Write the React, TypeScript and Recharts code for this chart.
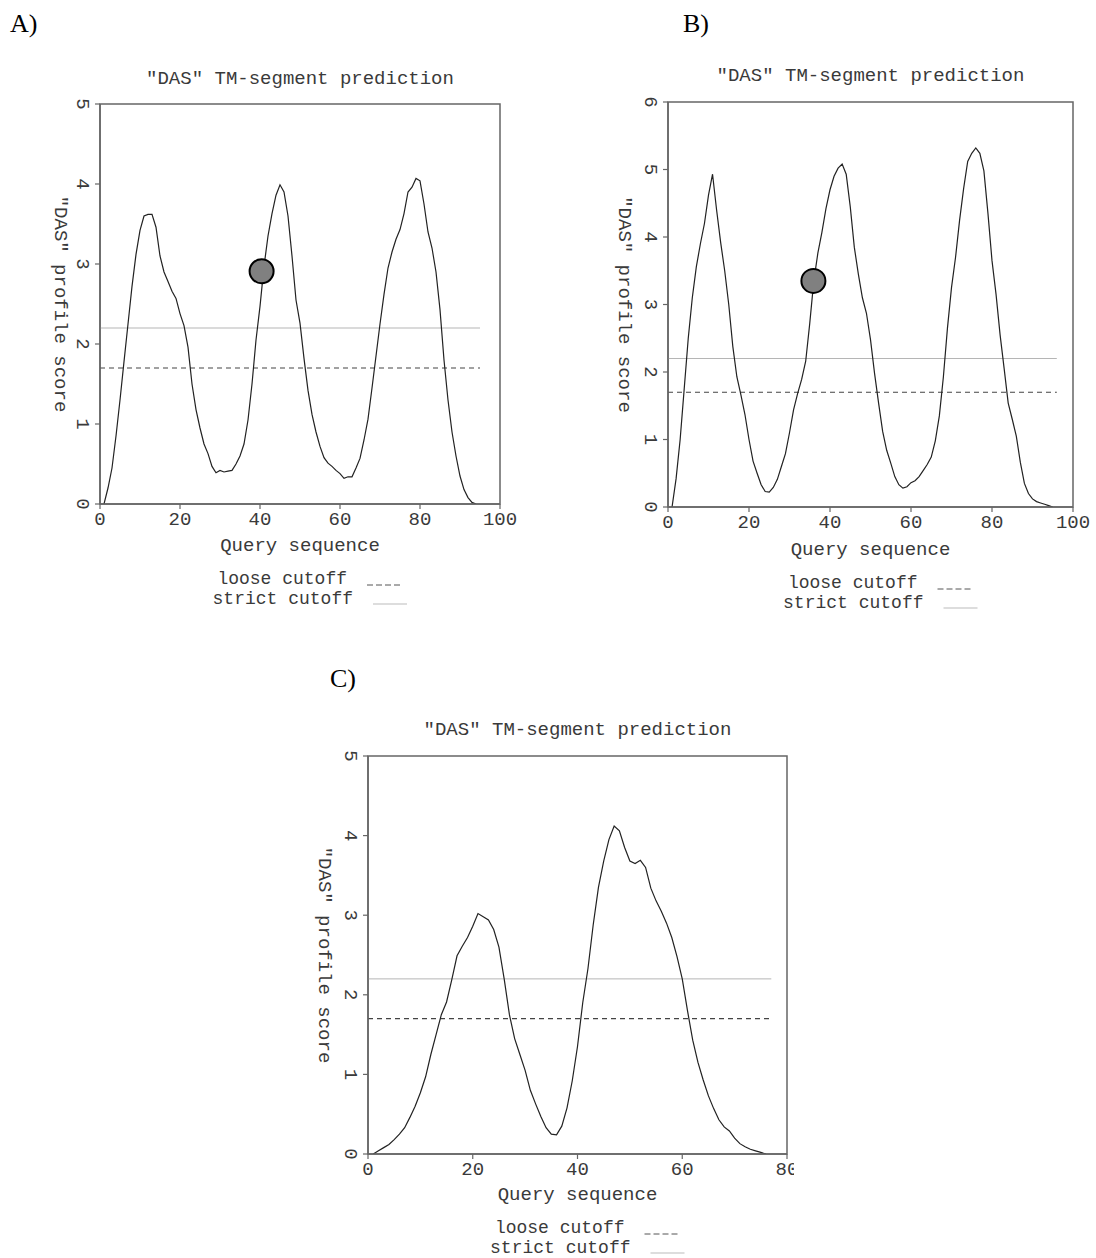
import React from 'react';
import { LineChart, Line, XAxis, YAxis, ReferenceLine, ReferenceArea, ReferenceDot } from 'recharts';

// ---------- data ----------
const startA = 1;
const scoreA = [
  0, 0.2, 0.45, 0.85, 1.3, 1.78, 2.25, 2.72, 3.12, 3.42,
  3.6, 3.62, 3.62, 3.46, 3.1, 2.9, 2.78, 2.66, 2.57, 2.38,
  2.23, 1.96, 1.5, 1.18, 0.95, 0.75, 0.63, 0.47, 0.39, 0.42,
  0.4, 0.41, 0.42, 0.5, 0.6, 0.75, 1.05, 1.5, 2.05, 2.47,
  2.97, 3.35, 3.63, 3.86, 3.99, 3.9, 3.6, 3.1, 2.55, 2.26,
  1.82, 1.42, 1.12, 0.9, 0.72, 0.58, 0.51, 0.47, 0.42, 0.38,
  0.32, 0.34, 0.34, 0.45, 0.57, 0.8, 1.06, 1.45, 1.85, 2.25,
  2.62, 2.95, 3.15, 3.31, 3.43, 3.63, 3.9, 3.96, 4.07, 4.04,
  3.75, 3.4, 3.2, 2.9, 2.43, 1.8, 1.3, 0.9, 0.6, 0.35,
  0.18, 0.08, 0.02, 0,
];

const startB = 1;
const scoreB = [
  0, 0.42, 1.0, 1.75, 2.5, 3.1, 3.56, 3.9, 4.2, 4.62,
  4.93, 4.4, 3.92, 3.5, 3.0, 2.38, 1.93, 1.66, 1.37, 1.0,
  0.68, 0.5, 0.33, 0.23, 0.22, 0.29, 0.41, 0.6, 0.79, 1.1,
  1.44, 1.68, 1.89, 2.16, 2.72, 3.35, 3.76, 4.07, 4.42, 4.7,
  4.9, 5.02, 5.08, 4.93, 4.45, 3.85, 3.45, 3.1, 2.87, 2.48,
  1.98, 1.54, 1.12, 0.84, 0.65, 0.45, 0.33, 0.28, 0.3, 0.36,
  0.39, 0.45, 0.54, 0.63, 0.74, 0.98, 1.35, 1.93, 2.65, 3.25,
  3.7, 4.25, 4.72, 5.12, 5.24, 5.32, 5.24, 4.98, 4.35, 3.65,
  3.15, 2.55, 2.05, 1.54, 1.3, 1.05, 0.66, 0.35, 0.2, 0.12,
  0.08, 0.06, 0.04, 0.02, 0,
];

const startC = 1;
const scoreC = [
  0, 0.04, 0.08, 0.12, 0.18, 0.25, 0.33, 0.46, 0.6, 0.77,
  0.97, 1.25, 1.5, 1.75, 1.91, 2.19, 2.49, 2.61, 2.72, 2.86,
  3.02, 2.98, 2.94, 2.82, 2.6, 2.2, 1.75, 1.45, 1.25, 1.05,
  0.8, 0.63, 0.47, 0.33, 0.25, 0.24, 0.35, 0.58, 0.92, 1.35,
  1.9, 2.33, 2.88, 3.35, 3.68, 3.95, 4.12, 4.06, 3.85, 3.68,
  3.65, 3.69, 3.6, 3.34, 3.18, 3.05, 2.9, 2.72, 2.48, 2.2,
  1.8, 1.43, 1.15, 0.93, 0.73, 0.57, 0.43, 0.34, 0.29, 0.2,
  0.13, 0.09, 0.06, 0.04, 0.02, 0,
];

const xTicksA = [0, 20, 40, 60, 80, 100];
const yTicksA = [0, 1, 2, 3, 4, 5];
const xTicksB = [0, 20, 40, 60, 80, 100];
const yTicksB = [0, 1, 2, 3, 4, 5, 6];
const xTicksC = [0, 20, 40, 60, 80];
const yTicksC = [0, 1, 2, 3, 4, 5];

const looseCutoff = 1.7;
const strictCutoff = 2.2;
const cutoffEndA = 95;
const cutoffEndB = 96;
const cutoffEndC = 77;

const markerA = { x: 40.4, y: 2.91 };
const markerB = { x: 35.9, y: 3.35 };

const chartTitle = '"DAS" TM-segment prediction';
const yLabel = '"DAS" profile score';
const xLabel = 'Query sequence';
const looseLabel = 'loose cutoff';
const strictLabel = 'strict cutoff';

// ---------- styling ----------
const MONO = "'Liberation Mono', 'Courier New', 'DejaVu Sans Mono', monospace";
const SERIF = "'Liberation Serif', 'Times New Roman', serif";
const FS = 19;
const LFS = 18;
const TXT = '#3a3a3a';
const FRAME = '#666';

const toData = (start: number, vals: number[]) => vals.map((v, i) => ({ x: start + i, y: v }));

const YTick = (props: any) => {
  const { x, y, payload } = props;
  const cx = x - 13;
  return (
    <text x={cx} y={y} transform={`rotate(90 ${cx} ${y})`} textAnchor="middle" dominantBaseline="central"
      fontFamily={MONO} fontSize={FS} fill={TXT}>{payload.value}</text>
  );
};

const XTick = (props: any) => {
  const { x, y, payload } = props;
  return (
    <text x={x} y={y + 11} textAnchor="middle" dominantBaseline="central"
      fontFamily={MONO} fontSize={FS} fill={TXT}>{payload.value}</text>
  );
};

type PanelProps = {
  left: number; top: number; width: number; height: number;
  marginTop: number; marginRight: number; yAxisWidth: number; xAxisHeight: number;
  data: { x: number; y: number }[];
  xMax: number; yMax: number; xTicks: number[]; yTicks: number[];
  cutoffEnd: number; marker?: { x: number; y: number };
};

const Panel = (p: PanelProps) => (
  <div style={{ position: 'absolute', left: p.left, top: p.top }}>
    <LineChart width={p.width} height={p.height} data={p.data}
      margin={{ top: p.marginTop, right: p.marginRight, left: 0, bottom: 0 }}>
      <XAxis type="number" dataKey="x" domain={[0, p.xMax]} ticks={p.xTicks} allowDataOverflow
        height={p.xAxisHeight} tickSize={5} tickMargin={0} tick={<XTick />}
        axisLine={{ stroke: FRAME, strokeWidth: 1.5 }} tickLine={{ stroke: FRAME, strokeWidth: 1.2 }} interval={0} />
      <YAxis type="number" domain={[0, p.yMax]} ticks={p.yTicks} allowDataOverflow
        width={p.yAxisWidth} tickSize={5} tickMargin={0} tick={<YTick />}
        axisLine={{ stroke: FRAME, strokeWidth: 1.5 }} tickLine={{ stroke: FRAME, strokeWidth: 1.2 }} interval={0} />
      <ReferenceArea x1={0} x2={p.xMax} y1={0} y2={p.yMax} fill="none" fillOpacity={0}
        stroke={FRAME} strokeWidth={1.5} />
      <ReferenceLine segment={[{ x: 0, y: strictCutoff }, { x: p.cutoffEnd, y: strictCutoff }]}
        stroke="#b5b5b5" strokeWidth={1} />
      <ReferenceLine segment={[{ x: 0, y: looseCutoff }, { x: p.cutoffEnd, y: looseCutoff }]}
        stroke="#444" strokeWidth={1.2} strokeDasharray="5 4" />
      <Line type="linear" dataKey="y" stroke="#222" strokeWidth={1.2} dot={false} isAnimationActive={false} />
      {p.marker && (
        <ReferenceDot x={p.marker.x} y={p.marker.y} r={12} fill="#808080" stroke="#000" strokeWidth={2} />
      )}
    </LineChart>
  </div>
);

type LabelsProps = { cx: number; plotMidY: number; yLabelX: number; titleY: number; qY: number; looseY: number; strictY: number };

const Labels = (l: LabelsProps) => (
  <g fontFamily={MONO} fontSize={FS} fill={TXT}>
    <text x={l.cx} y={l.titleY} textAnchor="middle" dominantBaseline="central">{chartTitle}</text>
    <text x={l.yLabelX} y={l.plotMidY} transform={`rotate(90 ${l.yLabelX} ${l.plotMidY})`} textAnchor="middle" dominantBaseline="central">{yLabel}</text>
    <text x={l.cx} y={l.qY} textAnchor="middle" dominantBaseline="central">{xLabel}</text>
    <text x={l.cx + 47} y={l.looseY} fontSize={LFS} textAnchor="end" dominantBaseline="central">{looseLabel}</text>
    <line x1={l.cx + 67} x2={l.cx + 100} y1={l.looseY + 6} y2={l.looseY + 6} stroke="#555" strokeWidth={1} strokeDasharray="6 3" />
    <text x={l.cx + 53} y={l.strictY} fontSize={LFS} textAnchor="end" dominantBaseline="central">{strictLabel}</text>
    <line x1={l.cx + 73} x2={l.cx + 107} y1={l.strictY + 5} y2={l.strictY + 5} stroke="#bbb" strokeWidth={1} />
  </g>
);

export default function App() {
  const dataA = toData(startA, scoreA);
  const dataB = toData(startB, scoreB);
  const dataC = toData(startC, scoreC);
  return (
    <div style={{ position: 'absolute', left: 0, top: 0, width: 1096, height: 1258, background: '#fff', overflow: 'hidden' }}>
      <Panel left={40} top={90} width={480} height={450} marginTop={14} marginRight={20} yAxisWidth={60} xAxisHeight={36}
        data={dataA} xMax={100} yMax={5} xTicks={xTicksA} yTicks={yTicksA} cutoffEnd={cutoffEndA} marker={markerA} />
      <Panel left={600} top={90} width={496} height={450} marginTop={12} marginRight={23} yAxisWidth={68} xAxisHeight={33}
        data={dataB} xMax={100} yMax={6} xTicks={xTicksB} yTicks={yTicksB} cutoffEnd={cutoffEndB} marker={markerB} />
      <Panel left={300} top={740} width={494} height={440} marginTop={16} marginRight={7} yAxisWidth={68} xAxisHeight={26}
        data={dataC} xMax={80} yMax={5} xTicks={xTicksC} yTicks={yTicksC} cutoffEnd={cutoffEndC} />
      <svg width={1096} height={1258} style={{ position: 'absolute', left: 0, top: 0, pointerEvents: 'none' }}>
        <g fontFamily={SERIF} fontSize={26} fill="#000">
          <text x={10} y={32}>A)</text>
          <text x={683} y={32}>B)</text>
          <text x={330} y={687}>C)</text>
        </g>
        <Labels cx={300} plotMidY={304} yLabelX={60} titleY={79} qY={546} looseY={579} strictY={599} />
        <Labels cx={870.5} plotMidY={304.5} yLabelX={624} titleY={76} qY={550} looseY={583} strictY={603} />
        <Labels cx={577.5} plotMidY={955} yLabelX={324} titleY={730} qY={1195} looseY={1228} strictY={1248} />
      </svg>
    </div>
  );
}
